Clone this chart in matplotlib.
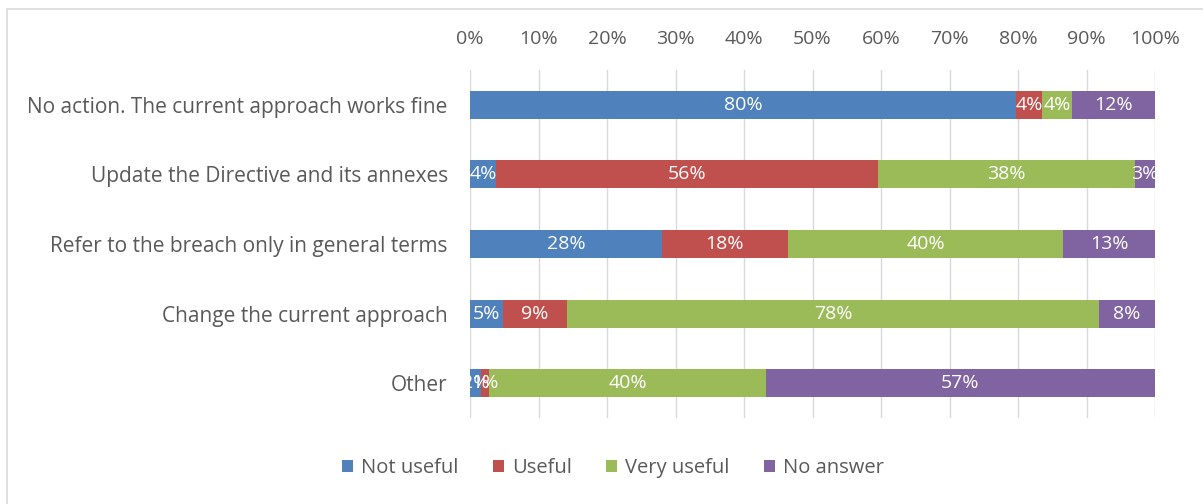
import numpy as np
import matplotlib.pyplot as plt
from matplotlib.patches import Rectangle

plt.rcParams['font.family'] = ['Open Sans', 'DejaVu Sans']

# categories top to bottom
categories = ['No action. The current approach works fine',
              'Update the Directive and its annexes',
              'Refer to the breach only in general terms',
              'Change the current approach',
              'Other']

# shares in %
not_useful = [79.7, 3.8, 28.0, 4.8, 1.6]
useful = [3.8, 55.8, 18.4, 9.4, 1.2]
very_useful = [4.4, 37.5, 40.2, 77.6, 40.4]
no_answer = [12.1, 2.9, 13.4, 8.2, 56.8]

series = ['Not useful', 'Useful', 'Very useful', 'No answer']
colors = ['#4F81BD', '#C0504D', '#9BBB59', '#8064A2']

fig = plt.figure(figsize=(12.03, 5.04), dpi=100)
ax = fig.add_axes([470 / 1203, 1 - 418 / 504, 685 / 1203, 348 / 504])

y = np.arange(len(categories))
left = np.zeros(len(categories))
for name, vals, col in zip(series, [not_useful, useful, very_useful, no_answer], colors):
    vals = np.array(vals)
    ax.barh(y, vals, left=left, height=0.4, color=col, label=name, zorder=3)
    for yi, l, v in zip(y, left, vals):
        ax.text(l + v / 2, yi, '%d%%' % round(v), ha='center', va='center',
                color='white', fontsize=14, zorder=4)
    left += vals

ax.set_xlim(0, 100)
ax.set_ylim(len(categories) - 0.5, -0.5)
ax.set_yticks(y)
ax.set_yticklabels(categories)
ax.set_xticks(np.arange(0, 101, 10))
ax.set_xticklabels(['%d%%' % v for v in range(0, 101, 10)])
ax.xaxis.tick_top()
ax.tick_params(axis='x', length=0, pad=16, labelsize=14, colors='#595959')
ax.tick_params(axis='y', length=0, pad=16, labelsize=15, colors='#595959')
ax.grid(axis='x', color='#D9D9D9', linewidth=1, zorder=0)
for s in ax.spines.values():
    s.set_visible(False)

ax.legend(loc='center', bbox_to_anchor=(613 / 1203, 1 - 468 / 504),
          bbox_transform=fig.transFigure, ncol=4, frameon=False,
          fontsize=14.5, handlelength=0.55, handleheight=0.55, handletextpad=0.4,
          columnspacing=1.7, labelcolor='#595959')

# chart border (cropped on the right and bottom)
fig.patches.append(Rectangle((7 / 1203, -0.1), 1.2, 1 - 9 / 504 + 0.1,
                             transform=fig.transFigure, fill=False,
                             edgecolor='#D9D9D9', linewidth=1.2))

fig.savefig('out.png', dpi=100)
